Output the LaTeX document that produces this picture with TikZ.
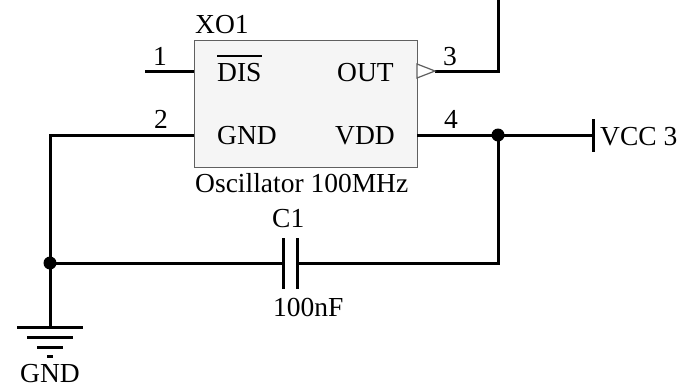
\documentclass[tikz,border=0pt]{standalone}
\usepackage{fontspec}
\setmainfont{Liberation Serif}
\begin{document}
\begin{tikzpicture}[x=1pt,y=-1pt,
  wire/.style={line width=3pt,line join=miter},
  lbl/.style={inner sep=0pt,font=\fontsize{27.5}{32}\selectfont},
  jdot/.style={circle,fill=black,inner sep=0pt,minimum size=13pt},
  thinln/.style={draw=gray!75!black,line width=1.2pt}]
\useasboundingbox (0,0) rectangle (678,386);
% oscillator body
\node[thinln,fill=gray!8,minimum width=223pt,minimum height=127pt,inner sep=0pt,anchor=north west] (xo) at (194,40) {};
% coordinates
\coordinate (p1a) at (145,71);
\coordinate (p1b) at (194,71);
\coordinate (p2b) at (194,135);
\coordinate (corner) at (50,135);
\coordinate (p3a) at (435,71);
\coordinate (p3j) at (498,71);
\coordinate (top) at (498,0);
\coordinate (p4a) at (417,135);
\coordinate (vcc) at (593,135);
\coordinate (cb) at (498,263);
\coordinate (capL) at (283,263);
\coordinate (capR) at (297,263);
\coordinate (gnd) at (50,327);
\node[jdot] (d1) at (498,135) {};
\node[jdot] (d2) at (50,263) {};
% wires
\draw[wire] (p1a) -- (p1b);
\draw[wire] (gnd) -- (corner) -- (p2b);
\draw[wire] (p3a) -- (p3j) -- (top);
\draw[wire] (p4a) -- (vcc);
\draw[wire] (d1.center) -- (cb) -- (capR);
\draw[wire] (d2.center) -- (capL);
% output triangle
\draw[thinln,fill=white] (417,64) -- (435,71) -- (417,78) -- cycle;
% VCC bar
\draw[wire] (593,119) -- (593,152);
% capacitor plates
\draw[wire] (capL) ++(0,-25) -- ++(0,51);
\draw[wire] (capR) ++(0,-25) -- ++(0,51);
% ground symbol
\draw[wire] (17,327) -- (83,327);
\draw[wire] (27,337) -- (73,337);
\draw[wire] (37,347) -- (63,347);
\draw[wire] (47,356) -- (53,356);
% labels
\node[lbl,anchor=base west] (ref) at (195,33) {XO1};
\node[lbl,anchor=base] (n1) at (160,65) {1};
\node[lbl,anchor=base] (n2) at (161,128) {2};
\node[lbl,anchor=base] (n3) at (450,65) {3};
\node[lbl,anchor=base] (n4) at (451,128) {4};
\node[lbl,anchor=base west] (dis) at (217,81) {DIS};
\draw[line width=2pt] ([yshift=7pt]dis.north west) -- ([yshift=7pt]dis.north east);
\node[lbl,anchor=base west] (out) at (337,81) {OUT};
\node[lbl,anchor=base west] (gndp) at (217,144) {GND};
\node[lbl,anchor=base west] (vdd) at (335,144) {VDD};
\node[lbl,anchor=base west] (val) at (195,192) {Oscillator 100MHz};
\node[lbl,anchor=base west] (c1) at (272,227) {C1};
\node[lbl,anchor=base west] (cv) at (273,316) {100nF};
\node[lbl,anchor=base] (gl) at (50,382) {GND};
\node[lbl,anchor=base west] (vl) at (600,145) {VCC 3};
\end{tikzpicture}
\end{document}
